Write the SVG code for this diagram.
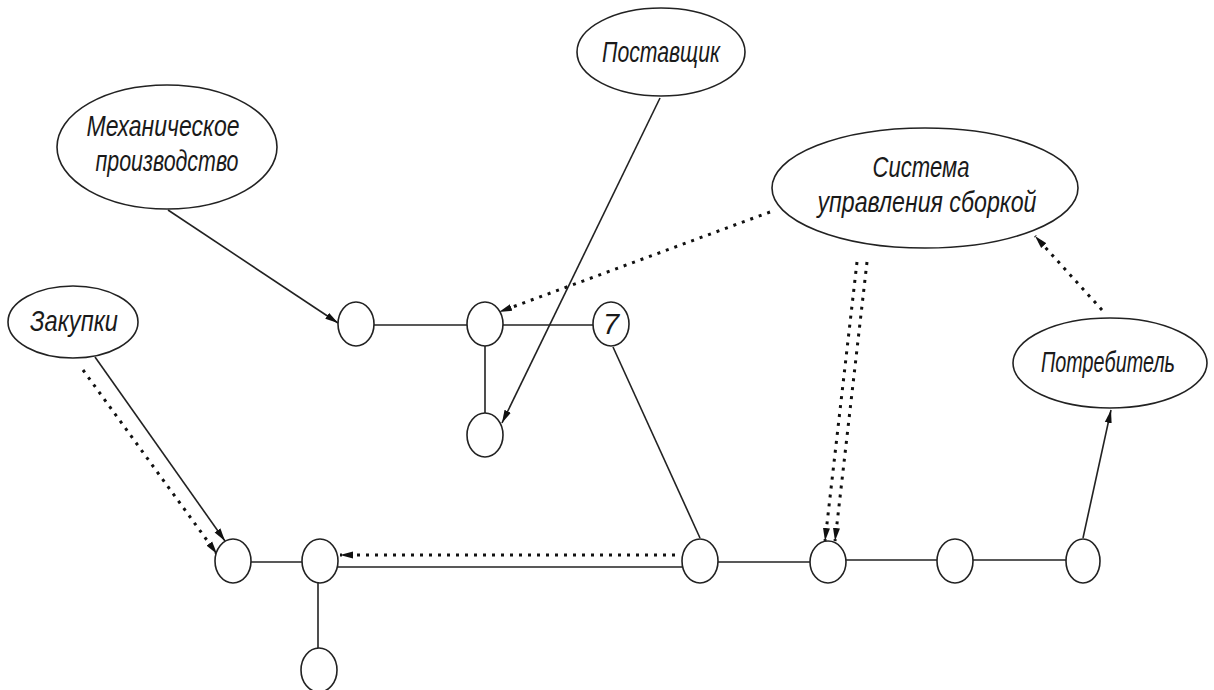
<svg xmlns="http://www.w3.org/2000/svg" width="1214" height="690" viewBox="0 0 1214 690">
<defs>
<style>
.bg{fill:#ffffff}
.big{fill:#ffffff;stroke:#222;stroke-width:1.6}
.pt{fill:#ffffff;stroke:#222;stroke-width:1.6}
.lbl{font-family:"Liberation Sans","DejaVu Sans",sans-serif;font-style:italic;font-size:29px;fill:#1a1a1a;text-anchor:middle}
.ln{fill:none;stroke:#222;stroke-width:1.6}
.dot{fill:none;stroke:#111;stroke-width:3;stroke-dasharray:3 6}
</style>
<marker id="arr" markerUnits="userSpaceOnUse" markerWidth="14" markerHeight="8" refX="13" refY="4" orient="auto">
<path d="M0,0.5 L13,4 L0,7.5 Z" fill="#111"/>
</marker>
</defs>
<rect class="bg" x="0" y="0" width="1214" height="690"/>

<g id="connectors">
<path class="ln" d="M168,210 L338,323" marker-end="url(#arr)"/>
<path class="ln" d="M660,98 L502,423" marker-end="url(#arr)"/>
<path class="dot" d="M770,212 L499,312" marker-end="url(#arr)"/>
<path class="ln" d="M374,325 L467,325"/>
<path class="ln" d="M503,325 L593,325"/>
<path class="ln" d="M485,346 L485,413"/>
<path class="ln" d="M613,347 L700,538"/>
<path class="ln" d="M95,357 L225,541" marker-end="url(#arr)"/>
<path class="dot" d="M83,370 L217,554" marker-end="url(#arr)"/>
<path class="ln" d="M251,562 L302,562"/>
<path class="ln" d="M337,567 L683,567"/>
<path class="dot" d="M675,555 L340,555" marker-end="url(#arr)"/>
<path class="ln" d="M318,583 L318,648"/>
<path class="ln" d="M718,562 L810,562"/>
<path class="ln" d="M845,560 L937,560"/>
<path class="ln" d="M972,560 L1066,560"/>
<path class="ln" d="M1083,538 L1111,410" marker-end="url(#arr)"/>
<path class="dot" d="M857,262 L825,541" marker-end="url(#arr)"/>
<path class="dot" d="M867,262 L835,541" marker-end="url(#arr)"/>
<path class="dot" d="M1102,310 L1035,236" marker-end="url(#arr)"/>
</g>

<g id="mech">
<ellipse class="big" cx="167" cy="147" rx="110" ry="62"/>
<text class="lbl" x="163" y="136" textLength="153" lengthAdjust="spacingAndGlyphs">Механическое</text>
<text class="lbl" x="167" y="171" textLength="143" lengthAdjust="spacingAndGlyphs">производство</text>
</g>
<g id="supplier">
<ellipse class="big" cx="661" cy="52" rx="84" ry="44"/>
<text class="lbl" x="661" y="62" textLength="118" lengthAdjust="spacingAndGlyphs">Поставщик</text>
</g>
<g id="assembly">
<ellipse class="big" cx="925" cy="188" rx="153" ry="60"/>
<text class="lbl" x="921" y="177" textLength="97" lengthAdjust="spacingAndGlyphs">Система</text>
<text class="lbl" x="927" y="212" textLength="219" lengthAdjust="spacingAndGlyphs">управления сборкой</text>
</g>
<g id="purchase">
<ellipse class="big" cx="73" cy="322" rx="65" ry="36"/>
<text class="lbl" x="74" y="331" textLength="88" lengthAdjust="spacingAndGlyphs">Закупки</text>
</g>
<g id="consumer">
<ellipse class="big" cx="1110" cy="363" rx="97" ry="45"/>
<text class="lbl" x="1108" y="372" font-size="26" textLength="134" lengthAdjust="spacingAndGlyphs">Потребитель</text>
</g>

<g id="nA"><ellipse class="pt" cx="356" cy="324" rx="18" ry="22"/></g>
<g id="nB"><ellipse class="pt" cx="485" cy="324" rx="18" ry="22"/></g>
<g id="n7"><ellipse class="pt" cx="611" cy="324" rx="18" ry="22"/>
<text class="lbl" x="611" y="334" font-size="27">7</text></g>
<g id="nC"><ellipse class="pt" cx="485" cy="435" rx="18" ry="22"/></g>
<g id="nD"><ellipse class="pt" cx="233" cy="561" rx="18" ry="22"/></g>
<g id="nE"><ellipse class="pt" cx="320" cy="561" rx="18" ry="22"/></g>
<g id="nG"><ellipse class="pt" cx="319" cy="670" rx="18" ry="22"/></g>
<g id="nF"><ellipse class="pt" cx="700" cy="561" rx="18" ry="22"/></g>
<g id="nH"><ellipse class="pt" cx="828" cy="562" rx="18" ry="21"/></g>
<g id="nI"><ellipse class="pt" cx="955" cy="561" rx="18" ry="22"/></g>
<g id="nJ"><ellipse class="pt" cx="1083" cy="561" rx="17" ry="22"/></g>
</svg>
